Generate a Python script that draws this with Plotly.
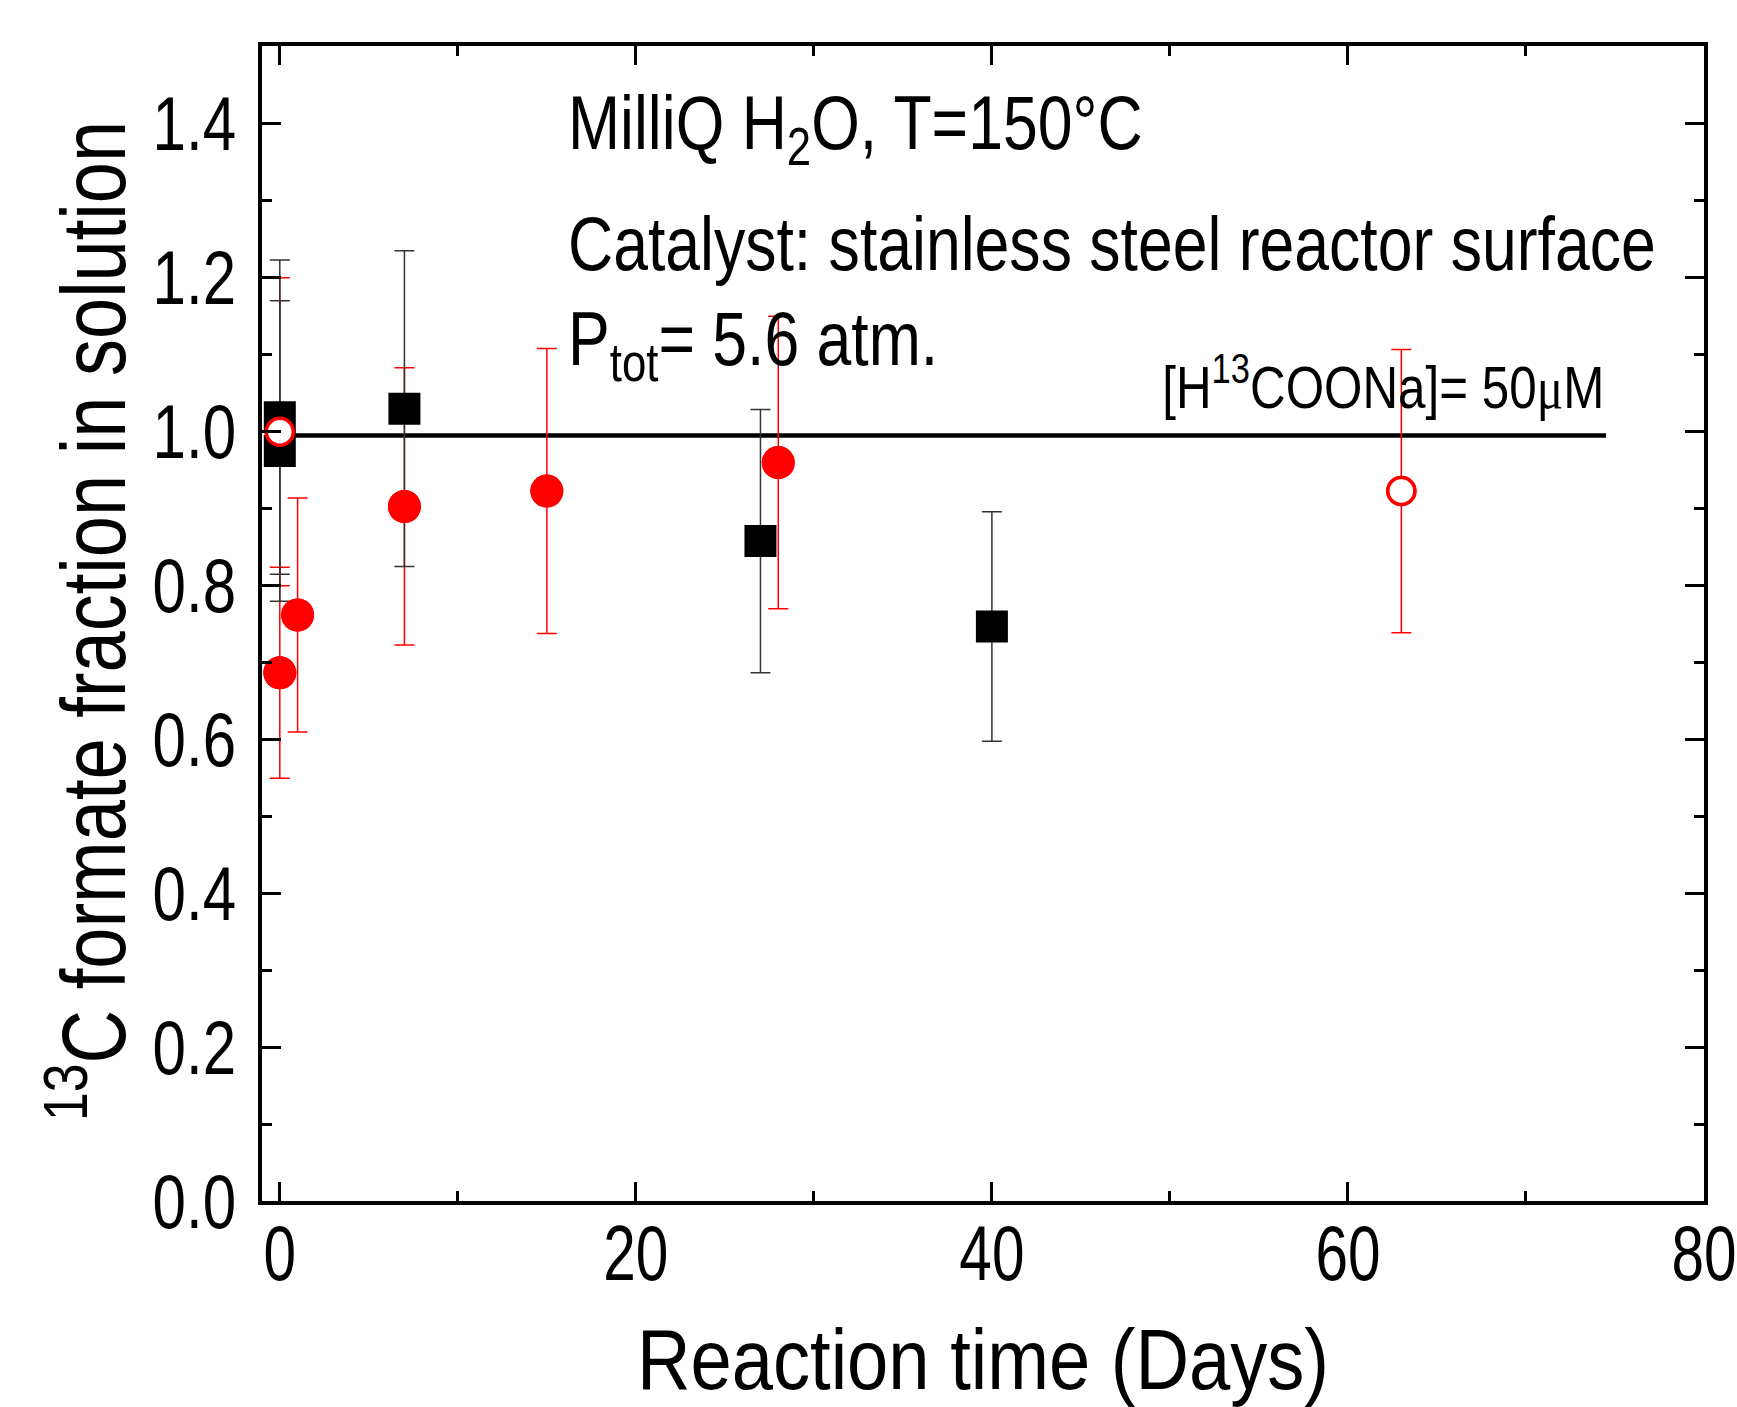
import plotly.graph_objects as go

# ---- data ----
sq_x = [0, 0, 7, 27, 40]
sq_y = [1.018, 0.974, 1.029, 0.857, 0.746]
sq_err = [0.204, 0.195, 0.205, 0.171, 0.149]

rc_x = [0, 1, 7, 15, 28]
rc_y = [0.686, 0.761, 0.902, 0.922, 0.959]
rc_err = [0.137, 0.152, 0.180, 0.185, 0.190]

oc_x = [0, 63]
oc_y = [0.999, 0.922]
oc_err = [0.200, 0.184]

ref_x = [0, 74.5]
ref_y = [0.994, 0.994]

x_ticks = [0, 20, 40, 60, 80]
y_ticks = [0.0, 0.2, 0.4, 0.6, 0.8, 1.0, 1.2, 1.4]

FONT = "Liberation Sans, Arial, sans-serif"
RED = "#ff0000"

fig = go.Figure()

fig.add_trace(go.Scatter(x=ref_x, y=ref_y, mode="lines",
                         line=dict(color="black", width=4.5), showlegend=False))

fig.add_trace(go.Scatter(x=rc_x, y=rc_y, mode="markers",
                         marker=dict(size=33, color=RED),
                         error_y=dict(type="data", array=rc_err, color=RED,
                                      thickness=1.5, width=10),
                         showlegend=False))
fig.add_trace(go.Scatter(x=oc_x, y=oc_y, mode="markers",
                         marker=dict(size=27, color="white", line=dict(color=RED, width=3.5)),
                         error_y=dict(type="data", array=oc_err, color=RED,
                                      thickness=1.5, width=10),
                         showlegend=False))
fig.add_trace(go.Scatter(x=sq_x, y=sq_y, mode="markers",
                         marker=dict(symbol="square", size=32, color="black"),
                         error_y=dict(type="data", array=sq_err, color="#333333",
                                      thickness=1.5, width=10),
                         showlegend=False))
fig.add_trace(go.Scatter(x=rc_x, y=rc_y, mode="markers",
                         marker=dict(size=33, color=RED), showlegend=False))
fig.add_trace(go.Scatter(x=oc_x, y=oc_y, mode="markers",
                         marker=dict(size=27, color="white", line=dict(color=RED, width=3.5)),
                         showlegend=False))

ann_font = dict(family=FONT, size=76, color="black")
annotations = [
    dict(x=16.05, y=1.393, text="MilliQ H<sub>2</sub>O, T=150°C"),
    dict(x=16.05, y=1.244, text="Catalyst: stainless steel reactor surface"),
    dict(x=16.05, y=1.113, text="P<sub>tot</sub>= 5.6 atm."),
]
for a in annotations:
    fig.add_annotation(xref="x", yref="y", showarrow=False, xanchor="left", align="left",
                       yanchor="middle", font=ann_font, **a)
fig.add_annotation(xref="x", yref="y", x=74.5, y=1.062, showarrow=False,
                   xanchor="right", align="right", yanchor="middle",
                   text="[H<sup>13</sup>COONa]= 50<span style=\"font-family:Liberation Serif\">μ</span>M",
                   font=dict(family=FONT, size=60, color="black"))

# y-axis title
fig.add_annotation(xref="paper", yref="paper", x=-0.0801, y=0.5028, showarrow=False,
                   xanchor="right", yanchor="middle", textangle=-90,
                   text="<sup>13</sup>C formate fraction in solution",
                   font=dict(family=FONT, size=90, color="black"))

axis_common = dict(showline=True, linecolor="black", linewidth=3.5, mirror="ticks",
                   ticks="inside", ticklen=19, tickwidth=3, tickcolor="black",
                   showgrid=False, zeroline=False, ticklabeloverflow="allow")

fig.update_xaxes(range=[-1, 80.001], tickmode="array", tickvals=x_ticks,
                 ticktext=[str(v) for v in x_ticks],
                 minor=dict(dtick=10, tick0=0, ticks="inside", ticklen=10, tickwidth=3, tickcolor="black"),
                 tickfont=dict(family=FONT, size=78, color="black"),
                 title=dict(text="Reaction time (Days)", font=dict(family=FONT, size=86, color="black"),
                            standoff=41),
                 ticklabelstandoff=-18,
                 **axis_common)
fig.update_yaxes(range=[0, 1.5], tickmode="array", tickvals=y_ticks,
                 ticktext=["%.1f" % v for v in y_ticks],
                 minor=dict(dtick=0.1, tick0=0, ticks="inside", ticklen=10, tickwidth=3, tickcolor="black"),
                 tickfont=dict(family=FONT, size=76, color="black"),
                 ticklabelstandoff=7,
                 **axis_common)

fig.update_layout(width=1737, height=1407,
                  margin=dict(l=262, r=33, t=46, b=206, autoexpand=False),
                  plot_bgcolor="white", paper_bgcolor="white")

post = """
document.body.style.margin = '0';
var gd = document.querySelector('.js-plotly-plot');
function squeeze(sel, k) {
  gd.querySelectorAll(sel).forEach(function(t) {
    var x = parseFloat(t.getAttribute('x')) || 0;
    var tr = t.getAttribute('transform') || '';
    t.setAttribute('transform', tr + ' translate(' + x + ',0) scale(' + k + ',1) translate(' + (-x) + ',0)');
  });
}
squeeze('.xtick text', 0.75);
squeeze('.ytick text', 0.79);
squeeze('text.xtitle', 0.862);
squeeze('.annotation text', 0.823);
"""

fig.write_html("out.html", post_script=post, config={"displayModeBar": False})
